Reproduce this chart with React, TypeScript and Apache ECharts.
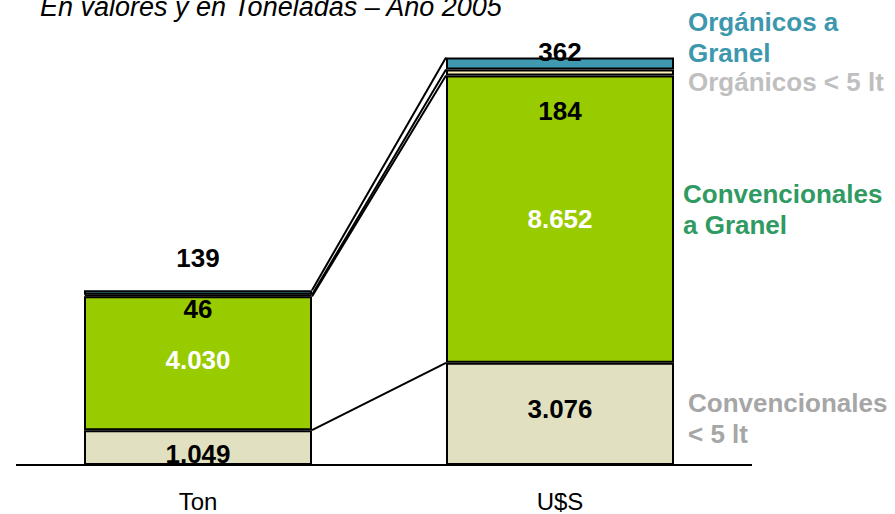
import React, { useEffect, useRef } from "react";
import * as echarts from "echarts";

const categories = ["Ton", "U$S"];
const seriesNames = [
  "Convencionales < 5 lt",
  "Convencionales a Granel",
  "Orgánicos < 5 lt",
  "Orgánicos a Granel",
];
const convMenos5 = [1049, 3076];
const convGranel = [4030, 8652];
const orgMenos5 = [46, 184];
const orgGranel = [139, 362];
const valueLabels = [
  ["1.049", "3.076"],
  ["4.030", "8.652"],
  ["46", "184"],
  ["139", "362"],
];
const legendLines = [
  "Convencionales\n< 5 lt",
  "Convencionales\na Granel",
  "Orgánicos < 5 lt",
  "Orgánicos a\nGranel",
];
const titleText = "En valores y en Toneladas – Año 2005";

const FONT = "'Liberation Sans', Arial, Helvetica, sans-serif";
const BAR_W = 228;

export default function App() {
  const ref = useRef<HTMLDivElement>(null);
  useEffect(() => {
    if (!ref.current) return;
    const chart = echarts.init(ref.current, null, { renderer: "svg" });
    const allSeries = [convMenos5, convGranel, orgMenos5, orgGranel];
    const fills = ["#e1e1c1", "#99cc00", "#fff2b8", "#3f99b1"];
    const labelColors = ["#000", "#fff", "#000", "#000"];
    // label offsets [series][category]
    const offsets = [
      [[0, 6], [0, -5]],
      [[0, -3], [0, 0]],
      [[0, 13], [0, 38]],
      [[0, -35], [0, -11]],
    ];
    const barSeries = allSeries.map((vals, si) => ({
      type: "bar",
      name: seriesNames[si],
      stack: "total",
      barWidth: BAR_W,
      z: 3,
      itemStyle: { color: fills[si], borderColor: "#000", borderWidth: 2 },
      data: vals.map((v, ci) => ({
        value: v,
        label: {
          show: true,
          position: "inside",
          offset: offsets[si][ci],
          formatter: valueLabels[si][ci],
          color: labelColors[si],
          fontSize: 26,
          fontWeight: "bold",
          fontFamily: FONT,
        },
      })),
    }));
    // cumulative boundaries for connector lines
    const cum = [0, 0];
    const connectors: number[][] = [];
    allSeries.forEach((vals) => {
      cum[0] += vals[0];
      cum[1] += vals[1];
      connectors.push([0, cum[0], cum[1]]);
    });
    const connectorSeries = {
      type: "custom",
      z: 2,
      silent: true,
      encode: { x: 0, y: [1, 2] },
      data: connectors,
      renderItem: (params: any, api: any) => {
        const a = api.coord([0, api.value(1)]);
        const b = api.coord([1, api.value(2)]);
        return {
          type: "line",
          shape: { x1: a[0] + BAR_W / 2, y1: a[1], x2: b[0] - BAR_W / 2, y2: b[1] },
          style: { stroke: "#000", lineWidth: 2 },
        };
      },
    };
    const legendColors = ["#a6a6a6", "#2f9a62", "#bfbfbf", "#3d97ad"];
    const legendPos = [
      [688, 418.5],
      [683, 209.5],
      [688, 81.5],
      [688, 37.5],
    ];
    const graphics: any[] = legendLines.map((t, i) => ({
      type: "text",
      x: legendPos[i][0],
      y: legendPos[i][1],
      style: {
        text: t,
        fill: legendColors[i],
        font: `bold 26px ${FONT}`,
        lineHeight: 31,
        verticalAlign: "middle",
        align: "left",
      },
    }));
    graphics.push({
      type: "text",
      x: 40,
      y: 7,
      style: {
        text: titleText,
        fill: "#000",
        font: `italic 27px ${FONT}`,
        verticalAlign: "middle",
        align: "left",
      },
    });
    graphics.push({
      type: "line",
      shape: { x1: 16, y1: 465, x2: 752, y2: 465 },
      style: { stroke: "#000", lineWidth: 2 },
      z: 10,
    });
    chart.setOption({
      animation: false,
      grid: { left: 17, right: 154, top: 40, bottom: 49 },
      xAxis: {
        type: "category",
        data: categories,
        axisLine: { show: false },
        axisTick: { show: false },
        axisLabel: { color: "#000", fontSize: 24, fontFamily: FONT, margin: 24 },
      },
      yAxis: {
        type: "value",
        min: 0,
        max: 12800,
        show: false,
        splitLine: { show: false },
      },
      series: [...barSeries, connectorSeries],
      graphic: graphics,
    });
    return () => chart.dispose();
  }, []);
  return (
    <div
      ref={ref}
      style={{ position: "fixed", left: 0, top: 0, width: 895, height: 514, background: "#fff" }}
    />
  );
}
